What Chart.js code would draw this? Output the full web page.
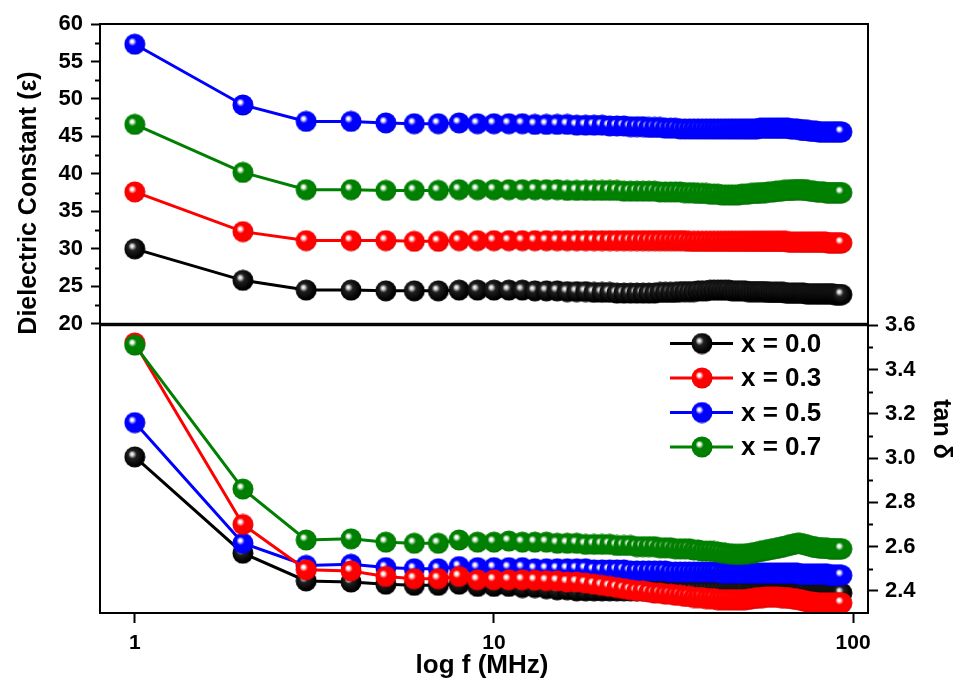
<!DOCTYPE html>
<html>
<head>
<meta charset="utf-8">
<title>Dielectric constant and tan delta vs frequency</title>
<script src="https://cdn.jsdelivr.net/npm/chart.js@4.4.0/dist/chart.umd.min.js"></script>
<style>
    html, body { margin: 0; padding: 0; background: #ffffff; }
    #wrap { position: relative; width: 957px; height: 688px; overflow: hidden; background: #ffffff; }
    canvas { position: absolute; left: 0; }
    #topChart { top: 0; }
    #bottomChart { top: 305px; }
</style>
</head>
<body>
<div id="wrap">
    <canvas id="topChart" width="957" height="345"></canvas>
    <canvas id="bottomChart" width="957" height="383"></canvas>
</div>
<script>
/**
 * Dielectric constant (top) and tan delta (bottom) against log frequency
 */

const FONT = "'Liberation Sans', Arial, sans-serif";

// Frequencies in MHz
const freqs = [
    1, 2, 3, 4, 5, 6, 7, 8, 9, 10,
    11, 12, 13, 14, 15, 16, 17, 18, 19, 20,
    21, 22, 23, 24, 25, 26, 27, 28, 29, 30,
    31, 32, 33, 34, 35, 36, 37, 38, 39, 40,
    41, 42, 43, 44, 45, 46, 47, 48, 49, 50,
    51, 52, 53, 54, 55, 56, 57, 58, 59, 60,
    61, 62, 63, 64, 65, 66, 67, 68, 69, 70,
    71, 72, 73, 74, 75, 76, 77, 78, 79, 80,
    81, 82, 83, 84, 85, 86, 87, 88, 89, 90,
    91, 92, 93
];

const seriesLabels = ['x = 0.0', 'x = 0.3', 'x = 0.5', 'x = 0.7'];
const seriesColors = ['#000000', '#ff0000', '#0000ff', '#008000'];

// Dielectric constant
const epsX00 = [
    30.0, 25.8, 24.5, 24.5, 24.4, 24.4, 24.4, 24.5, 24.5, 24.5,
    24.5, 24.5, 24.4, 24.4, 24.4, 24.3, 24.3, 24.3, 24.2, 24.2,
    24.2, 24.1, 24.1, 24.1, 24.1, 24.1, 24.1, 24.1, 24.2, 24.2,
    24.2, 24.2, 24.3, 24.3, 24.3, 24.3, 24.4, 24.4, 24.4, 24.5,
    24.5, 24.5, 24.5, 24.5, 24.5, 24.4, 24.4, 24.4, 24.4, 24.4,
    24.3, 24.3, 24.3, 24.3, 24.3, 24.3, 24.3, 24.2, 24.2, 24.2,
    24.2, 24.2, 24.2, 24.2, 24.1, 24.1, 24.1, 24.1, 24.1, 24.1,
    24.1, 24.1, 24.1, 24.0, 24.0, 24.0, 24.0, 24.0, 24.0, 24.0,
    24.0, 24.0, 24.0, 24.0, 24.0, 24.0, 24.0, 24.0, 23.9, 23.9,
    23.9, 23.9, 23.9
];
const epsX03 = [
    37.6, 32.3, 31.1, 31.1, 31.1, 31.0, 31.0, 31.1, 31.1, 31.1,
    31.1, 31.1, 31.1, 31.1, 31.1, 31.1, 31.1, 31.1, 31.1, 31.1,
    31.1, 31.1, 31.1, 31.1, 31.1, 31.1, 31.1, 31.1, 31.1, 31.1,
    31.1, 31.1, 31.1, 31.1, 31.0, 31.0, 31.0, 31.0, 31.0, 31.0,
    31.0, 31.0, 31.0, 31.0, 31.0, 31.0, 31.0, 31.0, 31.0, 31.0,
    31.0, 31.0, 31.0, 31.0, 31.0, 31.0, 31.0, 31.0, 31.0, 31.0,
    31.0, 31.0, 31.0, 31.0, 31.0, 30.9, 30.9, 30.9, 30.9, 30.9,
    30.9, 30.9, 30.9, 30.9, 30.9, 30.9, 30.9, 30.9, 30.9, 30.9,
    30.9, 30.9, 30.9, 30.9, 30.8, 30.8, 30.8, 30.8, 30.8, 30.8,
    30.8, 30.8, 30.8
];
const epsX05 = [
    57.3, 49.2, 47.0, 47.0, 46.8, 46.7, 46.7, 46.8, 46.7, 46.7,
    46.7, 46.7, 46.6, 46.6, 46.6, 46.6, 46.5, 46.5, 46.5, 46.5,
    46.4, 46.4, 46.4, 46.3, 46.3, 46.3, 46.2, 46.2, 46.2, 46.1,
    46.1, 46.1, 46.0, 46.0, 46.0, 46.0, 46.0, 46.0, 46.0, 46.0,
    46.0, 46.0, 46.0, 46.0, 46.0, 46.0, 46.0, 46.0, 46.0, 46.0,
    46.0, 46.0, 46.0, 46.0, 46.1, 46.1, 46.1, 46.1, 46.1, 46.1,
    46.1, 46.1, 46.1, 46.1, 46.1, 46.1, 46.0, 46.0, 46.0, 46.0,
    45.9, 45.9, 45.8, 45.8, 45.8, 45.7, 45.7, 45.7, 45.7, 45.6,
    45.6, 45.6, 45.6, 45.6, 45.6, 45.6, 45.6, 45.6, 45.6, 45.6,
    45.6, 45.6, 45.6
];
const epsX07 = [
    46.6, 40.2, 37.9, 37.9, 37.8, 37.8, 37.8, 37.9, 37.9, 37.9,
    37.9, 37.9, 37.9, 37.9, 37.9, 37.8, 37.8, 37.8, 37.8, 37.8,
    37.8, 37.8, 37.7, 37.7, 37.7, 37.7, 37.7, 37.7, 37.6, 37.6,
    37.6, 37.6, 37.6, 37.5, 37.5, 37.5, 37.4, 37.4, 37.4, 37.3,
    37.3, 37.3, 37.2, 37.2, 37.2, 37.2, 37.2, 37.2, 37.3, 37.3,
    37.3, 37.4, 37.4, 37.4, 37.5, 37.5, 37.5, 37.6, 37.6, 37.6,
    37.7, 37.7, 37.7, 37.8, 37.8, 37.8, 37.8, 37.9, 37.9, 37.9,
    37.9, 37.9, 37.9, 37.8, 37.8, 37.7, 37.7, 37.7, 37.6, 37.6,
    37.6, 37.6, 37.6, 37.5, 37.5, 37.5, 37.5, 37.5, 37.5, 37.5,
    37.5, 37.5, 37.5
];

// tan delta
const tanX00 = [
    3.005, 2.570, 2.445, 2.440, 2.430, 2.425, 2.425, 2.430, 2.420, 2.420,
    2.420, 2.415, 2.415, 2.410, 2.405, 2.405, 2.400, 2.400, 2.400, 2.400,
    2.400, 2.400, 2.400, 2.400, 2.400, 2.400, 2.400, 2.400, 2.400, 2.400,
    2.400, 2.400, 2.400, 2.400, 2.400, 2.400, 2.400, 2.400, 2.400, 2.400,
    2.400, 2.400, 2.400, 2.400, 2.400, 2.400, 2.400, 2.400, 2.400, 2.400,
    2.395, 2.395, 2.395, 2.395, 2.395, 2.395, 2.395, 2.395, 2.395, 2.395,
    2.395, 2.395, 2.395, 2.395, 2.395, 2.395, 2.395, 2.395, 2.395, 2.395,
    2.395, 2.395, 2.395, 2.395, 2.395, 2.390, 2.390, 2.390, 2.390, 2.390,
    2.390, 2.390, 2.390, 2.390, 2.390, 2.390, 2.390, 2.390, 2.390, 2.390,
    2.390, 2.390, 2.390
];
const tanX03 = [
    3.520, 2.700, 2.495, 2.490, 2.465, 2.455, 2.455, 2.465, 2.450, 2.450,
    2.450, 2.450, 2.448, 2.446, 2.445, 2.440, 2.440, 2.435, 2.430, 2.425,
    2.420, 2.415, 2.410, 2.405, 2.400, 2.400, 2.395, 2.390, 2.390, 2.385,
    2.385, 2.380, 2.380, 2.375, 2.375, 2.370, 2.370, 2.370, 2.365, 2.365,
    2.365, 2.360, 2.360, 2.360, 2.360, 2.360, 2.360, 2.360, 2.360, 2.360,
    2.362, 2.364, 2.366, 2.368, 2.370, 2.370, 2.372, 2.372, 2.372, 2.372,
    2.372, 2.372, 2.370, 2.370, 2.370, 2.368, 2.366, 2.365, 2.363, 2.362,
    2.360, 2.358, 2.355, 2.353, 2.350, 2.350, 2.348, 2.347, 2.346, 2.345,
    2.345, 2.345, 2.345, 2.345, 2.345, 2.345, 2.345, 2.345, 2.345, 2.345,
    2.345, 2.345, 2.345
];
const tanX05 = [
    3.160, 2.615, 2.515, 2.520, 2.505, 2.500, 2.500, 2.510, 2.505, 2.505,
    2.505, 2.505, 2.500, 2.500, 2.500, 2.500, 2.500, 2.500, 2.495, 2.495,
    2.495, 2.495, 2.495, 2.490, 2.490, 2.490, 2.490, 2.490, 2.490, 2.490,
    2.485, 2.485, 2.485, 2.485, 2.485, 2.485, 2.485, 2.485, 2.485, 2.485,
    2.485, 2.485, 2.480, 2.480, 2.480, 2.480, 2.480, 2.480, 2.480, 2.480,
    2.480, 2.480, 2.480, 2.480, 2.480, 2.480, 2.480, 2.480, 2.480, 2.480,
    2.480, 2.480, 2.480, 2.480, 2.480, 2.480, 2.480, 2.480, 2.480, 2.480,
    2.475, 2.475, 2.475, 2.475, 2.475, 2.475, 2.475, 2.475, 2.475, 2.475,
    2.475, 2.475, 2.475, 2.475, 2.475, 2.470, 2.470, 2.470, 2.470, 2.470,
    2.470, 2.470, 2.470
];
const tanX07 = [
    3.510, 2.860, 2.630, 2.635, 2.620, 2.615, 2.615, 2.630, 2.620, 2.620,
    2.625, 2.620, 2.620, 2.620, 2.615, 2.615, 2.615, 2.610, 2.610, 2.610,
    2.610, 2.605, 2.605, 2.605, 2.600, 2.600, 2.600, 2.600, 2.595, 2.595,
    2.595, 2.590, 2.590, 2.590, 2.590, 2.585, 2.585, 2.580, 2.580, 2.580,
    2.578, 2.575, 2.573, 2.570, 2.568, 2.566, 2.565, 2.565, 2.565, 2.566,
    2.568, 2.570, 2.572, 2.575, 2.578, 2.580, 2.583, 2.585, 2.588, 2.590,
    2.592, 2.595, 2.597, 2.600, 2.602, 2.605, 2.608, 2.610, 2.612, 2.615,
    2.615, 2.612, 2.610, 2.607, 2.605, 2.602, 2.600, 2.598, 2.596, 2.595,
    2.595, 2.594, 2.593, 2.592, 2.592, 2.591, 2.591, 2.590, 2.590, 2.590,
    2.590, 2.590, 2.590
];

const epsSeries = [epsX00, epsX03, epsX05, epsX07];
const tanSeries = [tanX00, tanX03, tanX05, tanX07];

// Axis ticks
const freqTicks = [1, 10, 100];
const epsTicks = [20, 25, 30, 35, 40, 45, 50, 55, 60];
const epsMinorTicks = [22.5, 27.5, 32.5, 37.5, 42.5, 47.5, 52.5, 57.5];
const tanTicks = [2.4, 2.6, 2.8, 3.0, 3.2, 3.4, 3.6];
const tanMinorTicks = [2.5, 2.7, 2.9, 3.1, 3.3, 3.5];

// Drawing order in the lower panel: green on top, black at the back
const drawOrder = [3, 1, 2, 0];

/**
 * Shaded ball used as the point marker
 */
function makeSphere(color) {
    const c = document.createElement('canvas');
    c.width = 22;
    c.height = 22;
    const g = c.getContext('2d');
    const isBlack = color === '#000000';
    const grad = g.createRadialGradient(8, 8, 0, 10, 10, 13);
    grad.addColorStop(0, '#ffffff');
    grad.addColorStop(0.1, isBlack ? '#e0e0e0' : '#ffffff');
    grad.addColorStop(0.32, isBlack ? '#202020' : color);
    grad.addColorStop(0.8, color);
    grad.addColorStop(1, isBlack ? '#000000' : shade(color));
    g.fillStyle = grad;
    g.beginPath();
    g.arc(11, 11, 10.5, 0, Math.PI * 2);
    g.fill();
    return c;
}

function shade(hex) {
    const n = parseInt(hex.slice(1), 16);
    const r = Math.round(((n >> 16) & 255) * 0.7);
    const gr = Math.round(((n >> 8) & 255) * 0.7);
    const b = Math.round((n & 255) * 0.7);
    return `rgb(${r},${gr},${b})`;
}

const spheres = seriesColors.map(makeSphere);

function buildDatasets(series) {
    return series.map((vals, i) => ({
        label: seriesLabels[i],
        data: freqs.map((f, j) => ({ x: f, y: vals[j] })),
        borderColor: seriesColors[i],
        backgroundColor: seriesColors[i],
        borderWidth: 3,
        pointStyle: spheres[i],
        pointRadius: 10,
        tension: 0,
        order: drawOrder[i]
    }));
}

/**
 * Box round the plot area, minor ticks and axis titles
 */
const framePlugin = {
    id: 'frame',
    afterDraw(chart, args, opts) {
        const { ctx, chartArea: a } = chart;
        ctx.save();
        ctx.strokeStyle = '#000';
        ctx.lineWidth = 2;
        ctx.strokeRect(a.left, a.top, a.right - a.left, a.bottom - a.top);

        // minor ticks
        const scale = chart.scales[opts.axis];
        ctx.beginPath();
        opts.minor.forEach(v => {
            const y = Math.round(scale.getPixelForValue(v)) + 0.5;
            if (opts.side === 'left') {
                ctx.moveTo(a.left, y);
                ctx.lineTo(a.left - 5, y);
            } else {
                ctx.moveTo(a.right, y);
                ctx.lineTo(a.right + 5, y);
            }
        });
        ctx.stroke();

        // axis titles
        ctx.fillStyle = '#000';
        ctx.textAlign = 'center';
        ctx.textBaseline = 'middle';
        opts.titles.forEach(t => {
            ctx.save();
            ctx.translate(t.x, t.y);
            ctx.rotate(t.rot * Math.PI / 180);
            ctx.font = `bold ${t.size}px ${FONT}`;
            ctx.fillText(t.text, 0, 0);
            ctx.restore();
        });
        ctx.restore();
    }
};

/**
 * Line + ball legend inside the lower panel
 */
const legendPlugin = {
    id: 'ballLegend',
    afterDraw(chart) {
        const ctx = chart.ctx;
        ctx.save();
        ctx.font = `bold 26px ${FONT}`;
        ctx.textBaseline = 'middle';
        ctx.textAlign = 'left';
        chart.data.datasets.forEach((ds, i) => {
            const y = 38.5 + i * 34.5;
            ctx.strokeStyle = ds.borderColor;
            ctx.lineWidth = 3;
            ctx.beginPath();
            ctx.moveTo(670, y);
            ctx.lineTo(733, y);
            ctx.stroke();
            ctx.drawImage(ds.pointStyle, 702 - 11, y - 11);
            ctx.fillStyle = '#000';
            ctx.fillText(ds.label, 741, y + 1);
        });
        ctx.restore();
    }
};

const yTickFont = { family: FONT, size: 22, weight: 'bold' };
const xTickFont = { family: FONT, size: 21, weight: 'bold' };

// Upper panel: dielectric constant
new Chart(document.getElementById('topChart'), {
    type: 'line',
    data: { datasets: buildDatasets(epsSeries) },
    options: {
        responsive: false,
        animation: false,
        events: [],
        layout: { padding: { top: 24, right: 89, bottom: 20, left: 0 } },
        plugins: {
            legend: { display: false },
            tooltip: { enabled: false },
            frame: {
                axis: 'y',
                side: 'left',
                minor: epsMinorTicks,
                titles: [{ text: 'Dielectric Constant (ε)', x: 29, y: 203, rot: -90, size: 25 }]
            }
        },
        scales: {
            x: { type: 'logarithmic', min: 0.8, max: 110, display: false },
            y: {
                type: 'linear',
                position: 'left',
                min: 20,
                max: 60,
                afterFit: s => { s.width = 100; },
                afterBuildTicks: s => { s.ticks = epsTicks.map(v => ({ value: v })); },
                ticks: { font: yTickFont, color: '#000', padding: 8, callback: v => String(v) },
                grid: { drawOnChartArea: false, tickLength: 9, tickWidth: 2, tickColor: '#000' },
                border: { display: true, color: '#000', width: 2 }
            }
        }
    },
    plugins: [framePlugin]
});

// Lower panel: tan delta
new Chart(document.getElementById('bottomChart'), {
    type: 'line',
    data: { datasets: buildDatasets(tanSeries) },
    options: {
        responsive: false,
        animation: false,
        events: [],
        layout: { padding: { top: 20, right: 0, bottom: 0, left: 100 } },
        plugins: {
            legend: { display: false },
            tooltip: { enabled: false },
            frame: {
                axis: 'y',
                side: 'right',
                minor: tanMinorTicks,
                titles: [
                    { text: 'tan δ', x: 941, y: 124, rot: 90, size: 25 },
                    { text: 'log f (MHz)', x: 482, y: 361, rot: 0, size: 26 }
                ]
            }
        },
        scales: {
            x: {
                type: 'logarithmic',
                position: 'bottom',
                min: 0.8,
                max: 110,
                afterFit: s => { s.height = 75; },
                afterBuildTicks: s => { s.ticks = freqTicks.map(v => ({ value: v })); },
                ticks: { font: xTickFont, color: '#000', padding: 8, autoSkip: false, maxRotation: 0, callback: v => String(v) },
                grid: { drawOnChartArea: false, tickLength: 10, tickWidth: 2, tickColor: '#000' },
                border: { display: true, color: '#000', width: 2 }
            },
            y: {
                type: 'linear',
                position: 'right',
                min: 2.3,
                max: 3.6,
                afterFit: s => { s.width = 89; },
                afterBuildTicks: s => { s.ticks = tanTicks.map(v => ({ value: v })); },
                ticks: { font: yTickFont, color: '#000', padding: 7, callback: v => v.toFixed(1) },
                grid: { drawOnChartArea: false, tickLength: 10, tickWidth: 2, tickColor: '#000' },
                border: { display: true, color: '#000', width: 2 }
            }
        }
    },
    plugins: [framePlugin, legendPlugin]
});
</script>
</body>
</html>
